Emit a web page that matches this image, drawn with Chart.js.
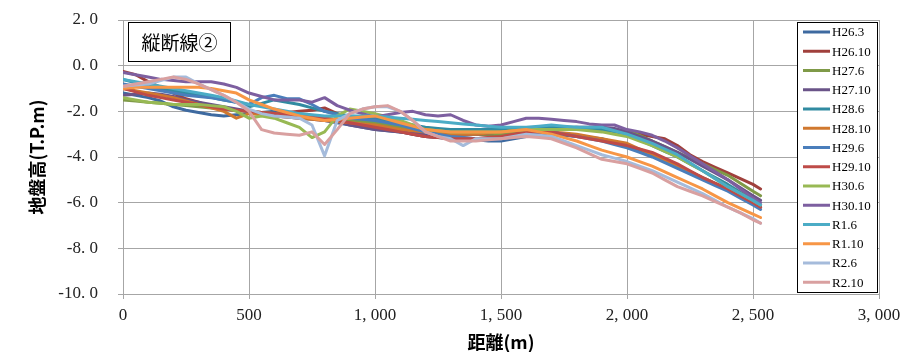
<!DOCTYPE html>
<html>
<head>
<meta charset="utf-8">
<script src="https://cdn.jsdelivr.net/npm/chart.js@4.4.1/dist/chart.umd.min.js"></script>
<style>
  html, body { margin: 0; padding: 0; background: #fff; }
  #wrap { width: 902px; height: 352px; }
</style>
</head>
<body>
<div id="wrap"><canvas id="profileChart" width="902" height="352"></canvas></div>
<script>
// 距離 (m) — 50m ピッチで読み取り
const distance = [
  0, 50, 100, 150, 200, 250, 300, 350, 400, 450,
  500, 550, 600, 650, 700, 750, 800, 850, 900, 950,
  1000, 1050, 1100, 1150, 1200, 1250, 1300, 1350, 1400, 1450,
  1500, 1550, 1600, 1650, 1700, 1750, 1800, 1850, 1900, 1950,
  2000, 2050, 2100, 2150, 2200, 2250, 2300, 2350, 2400, 2450,
  2500, 2530,
]

const h26_3 = [
  -1.2, -1.3, -1.4, -1.55, -1.8, -1.95, -2.05, -2.15, -2.2, -2.15,
  -2.1, -2.05, -2.0, -2.1, -2.2, -2.3, -2.4, -2.5, -2.6, -2.7,
  -2.8, -2.85, -2.9, -3.0, -3.1, -3.15, -3.2, -3.2, -3.25, -3.3,
  -3.3, -3.2, -3.1, -3.05, -3.0, -3.05, -3.1, -3.15, -3.2, -3.35,
  -3.5, -3.7, -3.9, -4.15, -4.4, -4.65, -4.9, -5.15, -5.4, -5.7,
  -6.0, -6.2,
]
const h26_10 = [
  -0.25, -0.4, -0.7, -0.95, -1.2, -1.45, -1.6, -1.8, -1.9, -1.95,
  -2.0, -2.05, -2.1, -2.05, -2.0, -1.95, -1.85, -2.1, -2.3, -2.45,
  -2.6, -2.75, -2.9, -3.0, -3.1, -3.15, -3.1, -3.05, -3.0, -3.05,
  -3.0, -2.95, -2.9, -2.85, -2.8, -2.8, -2.8, -2.75, -2.8, -2.85,
  -2.9, -3.0, -3.1, -3.2, -3.5, -3.9, -4.2, -4.45, -4.7, -4.95,
  -5.2, -5.4,
]
const h27_6 = [
  -1.5, -1.55, -1.6, -1.65, -1.7, -1.75, -1.8, -1.85, -1.9, -1.95,
  -2.0, -2.05, -2.1, -2.15, -2.2, -2.25, -2.3, -2.35, -2.4, -2.45,
  -2.5, -2.6, -2.7, -2.8, -2.9, -2.95, -3.0, -3.0, -3.0, -3.0,
  -3.0, -2.95, -2.9, -2.85, -2.8, -2.8, -2.8, -2.75, -2.75, -2.8,
  -2.85, -3.05, -3.3, -3.55, -3.8, -4.05, -4.3, -4.55, -4.8, -5.15,
  -5.5, -5.7,
]
const h27_10 = [
  -1.3, -1.25, -1.2, -1.25, -1.35, -1.5, -1.6, -1.7, -1.8, -1.9,
  -2.0, -2.1, -2.2, -2.25, -2.3, -2.35, -2.4, -2.45, -2.6, -2.7,
  -2.8, -2.85, -2.9, -2.95, -3.0, -3.0, -3.0, -3.0, -3.0, -2.95,
  -2.9, -2.85, -2.8, -2.8, -2.8, -2.75, -2.7, -2.7, -2.7, -2.75,
  -2.9, -3.1, -3.3, -3.55, -3.8, -4.1, -4.4, -4.7, -5.0, -5.35,
  -5.7, -5.9,
]
const h28_6 = [
  -0.6, -0.75, -0.9, -1.0, -1.1, -1.2, -1.3, -1.4, -1.5, -1.6,
  -1.8, -1.65, -1.5, -1.6, -1.7, -1.85, -2.0, -2.1, -2.2, -2.25,
  -2.3, -2.4, -2.5, -2.6, -2.7, -2.75, -2.8, -2.8, -2.8, -2.8,
  -2.8, -2.8, -2.8, -2.75, -2.7, -2.7, -2.7, -2.75, -2.8, -2.9,
  -3.0, -3.25, -3.5, -3.75, -4.0, -4.3, -4.6, -4.9, -5.2, -5.55,
  -5.9, -6.1,
]
const h28_10 = [
  -1.0, -1.1, -1.2, -1.3, -1.4, -1.55, -1.7, -1.85, -2.0, -2.3,
  -2.1, -2.15, -2.2, -2.25, -2.3, -2.35, -2.4, -2.45, -2.5, -2.55,
  -2.6, -2.7, -2.8, -2.85, -2.9, -2.95, -3.0, -3.0, -3.0, -2.95,
  -2.9, -2.85, -2.8, -2.85, -2.9, -2.95, -3.0, -3.1, -3.2, -3.3,
  -3.4, -3.65, -3.9, -4.15, -4.4, -4.65, -4.9, -5.15, -5.4, -5.7,
  -6.0, -6.2,
]
const h29_6 = [
  -0.8, -0.9, -1.0, -1.1, -1.2, -1.3, -1.35, -1.4, -1.5, -1.6,
  -1.7, -1.4, -1.3, -1.45, -1.45, -1.7, -2.0, -2.15, -2.3, -2.35,
  -2.4, -2.5, -2.6, -2.75, -2.9, -3.0, -3.1, -3.15, -3.2, -3.2,
  -3.2, -3.1, -3.0, -2.95, -2.9, -3.0, -3.1, -3.2, -3.3, -3.45,
  -3.6, -3.8, -4.0, -4.25, -4.5, -4.75, -5.0, -5.25, -5.5, -5.8,
  -6.1, -6.3,
]
const h29_10 = [
  -1.0, -1.15, -1.3, -1.4, -1.5, -1.6, -1.7, -1.8, -1.9, -1.95,
  -2.0, -2.05, -2.1, -2.15, -2.2, -2.25, -2.3, -2.4, -2.5, -2.6,
  -2.7, -2.8, -2.9, -3.0, -3.1, -3.15, -3.2, -3.2, -3.2, -3.15,
  -3.1, -3.0, -2.9, -2.9, -2.9, -3.0, -3.1, -3.2, -3.3, -3.4,
  -3.5, -3.65, -3.8, -4.05, -4.3, -4.6, -4.9, -5.15, -5.4, -5.7,
  -6.0, -6.2,
]
const h30_6 = [
  -1.4, -1.5, -1.6, -1.65, -1.7, -1.7, -1.7, -1.75, -1.8, -2.0,
  -2.3, -2.2, -2.3, -2.5, -2.7, -3.15, -2.9, -2.2, -1.9, -2.0,
  -2.1, -2.25, -2.4, -2.6, -2.8, -2.85, -2.9, -2.9, -2.9, -2.9,
  -2.9, -2.85, -2.8, -2.8, -2.8, -2.8, -2.8, -2.85, -2.9, -3.0,
  -3.1, -3.3, -3.5, -3.75, -4.0, -4.3, -4.6, -4.95, -5.3, -5.6,
  -5.9, -6.1,
]
const h30_10 = [
  -0.3, -0.4, -0.5, -0.6, -0.65, -0.7, -0.7, -0.7, -0.8, -0.95,
  -1.2, -1.35, -1.5, -1.5, -1.5, -1.6, -1.4, -1.75, -1.95, -2.1,
  -2.25, -2.15, -2.05, -2.0, -2.15, -2.2, -2.15, -2.4, -2.6, -2.65,
  -2.6, -2.45, -2.3, -2.3, -2.35, -2.4, -2.45, -2.55, -2.6, -2.6,
  -2.8, -2.9, -3.05, -3.3, -3.6, -3.95, -4.3, -4.65, -5.0, -5.4,
  -5.8, -6.0,
]
const r1_6 = [
  -0.6, -0.7, -0.8, -0.9, -1.0, -1.1, -1.2, -1.3, -1.4, -1.55,
  -1.7, -1.8, -1.9, -2.0, -2.1, -2.15, -2.2, -2.2, -2.2, -2.2,
  -2.2, -2.25, -2.3, -2.35, -2.4, -2.45, -2.5, -2.55, -2.6, -2.65,
  -2.7, -2.7, -2.7, -2.65, -2.6, -2.65, -2.7, -2.7, -2.7, -2.85,
  -3.0, -3.2, -3.4, -3.65, -3.9, -4.25, -4.6, -4.95, -5.3, -5.6,
  -5.9, -6.1,
]
const r1_10 = [
  -1.0, -0.95, -0.95, -0.95, -0.95, -0.95, -0.95, -1.0, -1.1, -1.2,
  -1.5, -1.7, -1.9, -2.05, -2.2, -2.3, -2.4, -2.35, -2.3, -2.25,
  -2.2, -2.35, -2.5, -2.65, -2.8, -2.85, -2.9, -2.9, -2.9, -2.9,
  -2.9, -2.85, -2.8, -2.9, -3.0, -3.15, -3.3, -3.5, -3.7, -3.85,
  -4.0, -4.2, -4.4, -4.65, -4.9, -5.15, -5.4, -5.7, -6.0, -6.25,
  -6.5, -6.65,
]
const r2_6 = [
  -0.9, -0.85, -0.8, -0.65, -0.5, -0.5, -0.8, -1.05, -1.3, -1.6,
  -1.9, -2.1, -2.2, -2.25, -2.3, -2.6, -3.95, -2.4, -2.1, -1.9,
  -1.8, -1.8, -2.0, -2.4, -2.9, -3.1, -3.2, -3.5, -3.2, -3.2,
  -3.2, -3.1, -3.0, -3.05, -3.1, -3.3, -3.5, -3.7, -3.9, -4.05,
  -4.2, -4.4, -4.6, -4.85, -5.1, -5.35, -5.6, -5.9, -6.2, -6.45,
  -6.7, -6.9,
]
const r2_10 = [
  -0.9, -0.8, -0.7, -0.6, -0.5, -0.6, -0.8, -1.05, -1.3, -1.6,
  -2.0, -2.8, -2.95, -3.0, -3.05, -2.9, -3.45, -2.8, -2.1, -1.9,
  -1.8, -1.75, -2.0, -2.4, -2.9, -3.1, -3.3, -3.3, -3.3, -3.25,
  -3.2, -3.15, -3.1, -3.15, -3.2, -3.4, -3.6, -3.85, -4.1, -4.2,
  -4.3, -4.5, -4.7, -5.0, -5.3, -5.5, -5.7, -5.95, -6.2, -6.45,
  -6.75, -6.9,
]

const seriesNames = [
  'H26.3', 'H26.10', 'H27.6', 'H27.10', 'H28.6', 'H28.10', 'H29.6',
  'H29.10', 'H30.6', 'H30.10', 'R1.6', 'R1.10', 'R2.6', 'R2.10',
]
const seriesValues = [
  h26_3, h26_10, h27_6, h27_10, h28_6, h28_10, h29_6,
  h29_10, h30_6, h30_10, r1_6, r1_10, r2_6, r2_10,
]
const seriesColors = [
  '#3E6AA0', '#A0403C', '#7F9A48', '#6A5488', '#318BA1', '#D0782F', '#4A7EBB',
  '#BE4B48', '#98B954', '#7D5FA0', '#4BACC6', '#F79646', '#A5BBDB', '#D9A0A0',
]

const yTicks = [2, 0, -2, -4, -6, -8, -10]
const xTicks = [0, 500, 1000, 1500, 2000, 2500, 3000]

const gridColor = '#A6A6A6'
const serif = '"Liberation Serif", "DejaVu Serif", serif'
const cjk = '"Noto Sans CJK JP", "Noto Sans", sans-serif'

// 凡例（プロット内右側の枠）
const legendBox = {
  id: 'legendBox',
  afterDraw(chart) {
    const ctx = chart.ctx
    ctx.save()
    ctx.fillStyle = '#fff'
    ctx.fillRect(797.5, 22.5, 80, 270)
    ctx.strokeStyle = '#000'
    ctx.lineWidth = 1
    ctx.strokeRect(797.5, 22.5, 80, 270)
    ctx.font = '13px ' + serif
    ctx.textBaseline = 'middle'
    chart.data.datasets.forEach((ds, i) => {
      const y = 32 + i * 19.25
      ctx.strokeStyle = ds.borderColor
      ctx.lineWidth = 3
      ctx.beginPath()
      ctx.moveTo(803, y)
      ctx.lineTo(830, y)
      ctx.stroke()
      ctx.fillStyle = '#000'
      ctx.fillText(ds.label, 832, y + 1)
    })
    ctx.restore()
  },
}

// 左上の「縦断線②」ラベル
const titleBox = {
  id: 'titleBox',
  afterDraw(chart) {
    const ctx = chart.ctx
    ctx.save()
    ctx.fillStyle = '#fff'
    ctx.fillRect(128.5, 22.5, 102, 39)
    ctx.strokeStyle = '#000'
    ctx.lineWidth = 1
    ctx.strokeRect(128.5, 22.5, 102, 39)
    ctx.fillStyle = '#000'
    ctx.font = '19px ' + cjk
    ctx.textAlign = 'center'
    ctx.textBaseline = 'middle'
    ctx.fillText('縦断線②', 179.5, 42.5)
    ctx.restore()
  },
}

const ctx = document.getElementById('profileChart').getContext('2d')

new Chart(ctx, {
  type: 'line',
  data: {
    datasets: seriesNames.map((name, i) => ({
      label: name,
      data: distance.map((d, k) => ({ x: d, y: seriesValues[i][k] })),
      borderColor: seriesColors[i],
      backgroundColor: seriesColors[i],
      borderWidth: 3,
      borderJoinStyle: 'round',
      borderCapStyle: 'round',
      pointRadius: 0,
      tension: 0,
      fill: false,
      // Excel と同様、後の系列を上に描く
      order: seriesNames.length - i,
    })),
  },
  options: {
    responsive: false,
    animation: false,
    layout: {
      padding: { top: 20, right: 23, left: 0, bottom: 0 },
    },
    plugins: {
      legend: { display: false },
      tooltip: { enabled: false },
    },
    scales: {
      x: {
        type: 'linear',
        min: 0,
        max: 3000,
        afterFit: (scale) => {
          scale.height = 58
          scale.paddingLeft = 0
          scale.paddingRight = 0
        },
        afterBuildTicks: (scale) => {
          scale.ticks = xTicks.map((v) => ({ value: v }))
        },
        grid: {
          color: gridColor,
          tickLength: 5,
        },
        border: { color: gridColor },
        ticks: {
          padding: 6,
          color: '#222',
          font: { family: serif, size: 17 },
          maxRotation: 0,
          callback: (value) => value.toLocaleString('en-US').replace(',', ', '),
        },
        title: {
          display: true,
          text: '距離(m)',
          color: '#000',
          font: { family: cjk, size: 18, weight: 'bold', lineHeight: 1 },
          padding: { top: 0, bottom: 1 },
        },
      },
      y: {
        min: -10,
        max: 2,
        afterFit: (scale) => {
          scale.width = 123
          scale.paddingTop = 0
          scale.paddingBottom = 0
        },
        afterBuildTicks: (scale) => {
          scale.ticks = yTicks.map((v) => ({ value: v }))
        },
        grid: {
          color: gridColor,
          tickLength: 5,
        },
        border: { color: gridColor },
        ticks: {
          padding: 20,
          color: '#222',
          font: { family: serif, size: 17 },
          callback: (value) => value.toFixed(1).replace('.', '. '),
        },
        title: {
          display: true,
          text: '地盤高(T.P.m)',
          color: '#000',
          font: { family: cjk, size: 18, weight: 'bold', lineHeight: 1.2 },
          padding: { top: 26, bottom: 26 },
        },
      },
    },
  },
  plugins: [legendBox, titleBox],
})
</script>
</body>
</html>
